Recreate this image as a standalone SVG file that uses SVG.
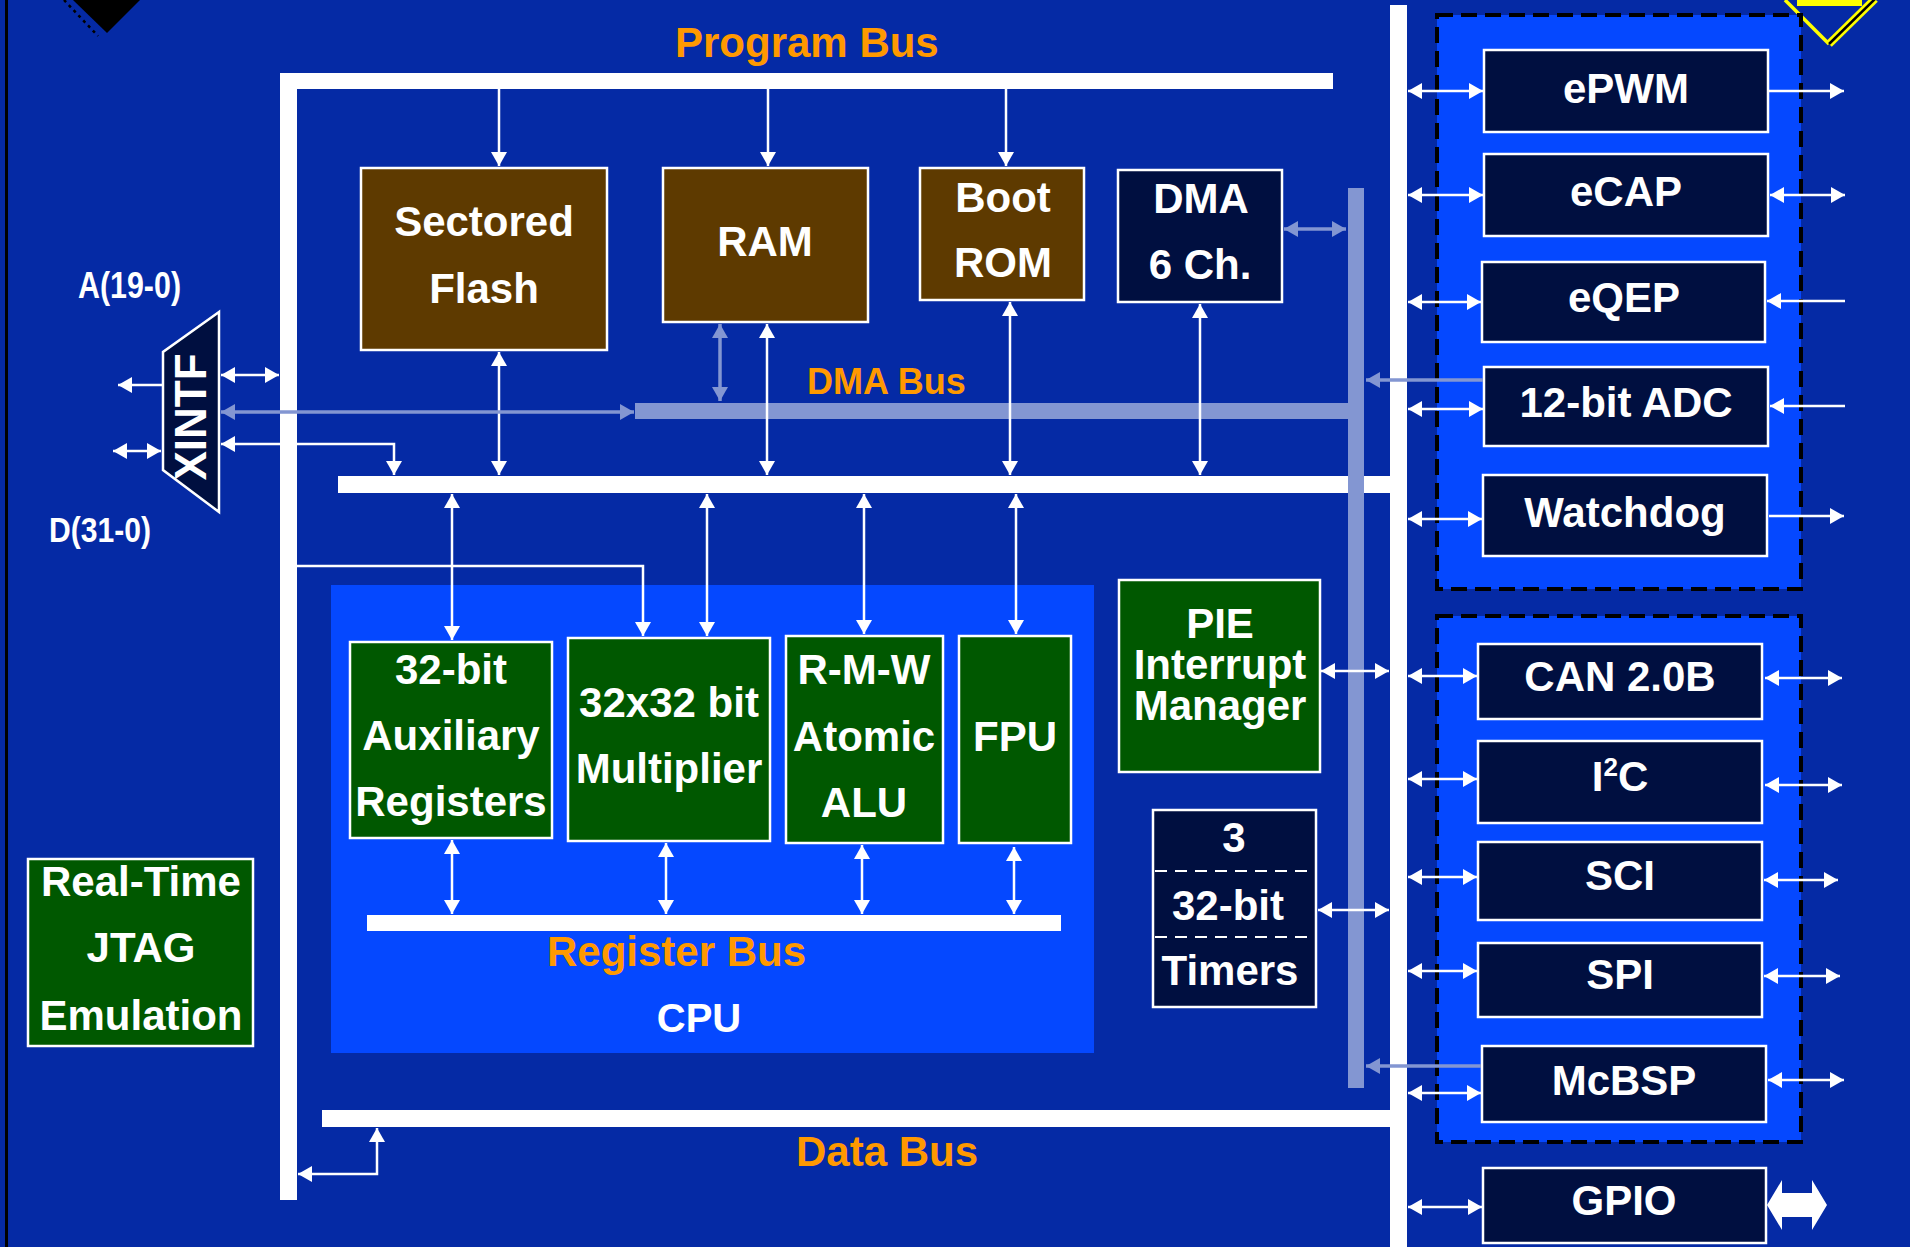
<svg xmlns="http://www.w3.org/2000/svg" width="1910" height="1247" viewBox="0 0 1910 1247">
<defs>
<style>
text{font-family:"Liberation Sans",Arial,sans-serif;font-weight:bold;fill:#fff;font-size:42px;text-anchor:middle}
.lbl{fill:#FF9900;text-anchor:start}
.wb{fill:#fff}
.lb{fill:#8396D2}
.box{stroke:#fff;stroke-width:2.5}
.brown{fill:#5E3A00}
.green{fill:#005800}
.navy{fill:#000F40}
.grp{fill:#0548FF;stroke:#000;stroke-width:4;stroke-dasharray:16 8}
.w{fill:none;stroke:#fff;stroke-width:2.5}
.l{fill:none;stroke:#8396D2;stroke-width:3.5}
.d{marker-start:url(#aw);marker-end:url(#aw)}
.e{marker-end:url(#aw)}
.dl{marker-start:url(#al);marker-end:url(#al)}
.el{marker-end:url(#al)}
</style>
<marker id="aw" markerUnits="userSpaceOnUse" markerWidth="14" markerHeight="16" refX="14" refY="8" orient="auto-start-reverse"><path d="M0,0 L14,8 L0,16 z" fill="#fff"/></marker>
<marker id="al" markerUnits="userSpaceOnUse" markerWidth="14" markerHeight="16" refX="14" refY="8" orient="auto-start-reverse"><path d="M0,0 L14,8 L0,16 z" fill="#8396D2"/></marker>
</defs>
<rect x="0" y="0" width="1910" height="1247" fill="#052AA5"/>
<rect x="5" y="0" width="3" height="1247" fill="#000"/>
<polygon points="73,0 140,0 107,33" fill="#000"/>
<line x1="64" y1="0" x2="98" y2="36" stroke="#000" stroke-width="2.5" stroke-dasharray="3 4"/>
<rect x="1797" y="0" width="65" height="6" fill="#FFFF00"/>
<line x1="1785" y1="0" x2="1829" y2="44" stroke="#FFFF00" stroke-width="3.5"/>
<line x1="1875" y1="-1" x2="1829" y2="44" stroke="#FFFF00" stroke-width="8"/>
<line x1="1875" y1="-1" x2="1829" y2="44" stroke="#000" stroke-width="2.5"/>

<g id="cpu-area"><rect x="331" y="585" width="763" height="468" fill="#0548FF"/></g>
<g id="periph-group-1"><rect class="grp" x="1437" y="15" width="364" height="574"/></g>
<g id="periph-group-2"><rect class="grp" x="1437" y="616" width="364" height="526"/></g>

<g id="buses">
<rect class="wb" x="280" y="73" width="1053" height="16"/>
<rect class="wb" x="280" y="73" width="17" height="1127"/>
<rect class="wb" x="1390" y="5" width="17" height="1242"/>
<rect class="wb" x="338" y="476" width="1052" height="17"/>
<rect class="wb" x="322" y="1110" width="1068" height="17"/>
<rect class="wb" x="367" y="915" width="694" height="16"/>
<rect class="lb" x="635" y="403" width="721" height="16"/>
<rect class="lb" x="1348" y="188" width="16" height="900"/>
</g>

<g id="bus-labels">
<text class="lbl" x="675" y="57">Program Bus</text>
<text class="lbl" x="807" y="394" style="font-size:36px">DMA Bus</text>
<text class="lbl" x="547" y="966">Register Bus</text>
<text class="lbl" x="796" y="1166">Data Bus</text>
<text x="699" y="1032" style="font-size:40px">CPU</text>
<text x="78" y="298" style="font-size:36px;text-anchor:start" textLength="103" lengthAdjust="spacingAndGlyphs">A(19-0)</text>
<text x="49" y="542" style="font-size:35px;text-anchor:start" textLength="102" lengthAdjust="spacingAndGlyphs">D(31-0)</text>
</g>

<g id="flash"><rect class="box brown" x="361" y="168" width="246" height="182"/><text x="484" y="236">Sectored</text><text x="484" y="303">Flash</text></g>
<g id="ram"><rect class="box brown" x="663" y="168" width="205" height="154"/><text x="765" y="256">RAM</text></g>
<g id="bootrom"><rect class="box brown" x="920" y="168" width="164" height="132"/><text x="1003" y="212">Boot</text><text x="1003" y="277">ROM</text></g>
<g id="dma"><rect class="box navy" x="1118" y="170" width="164" height="132"/><text x="1201" y="213">DMA</text><text x="1200" y="279">6 Ch.</text></g>
<g id="xintf"><polygon class="box navy" points="219,312 163,352 163,470 219,512"/><text transform="translate(206,417) rotate(-90)" style="font-size:44px">XINTF</text></g>

<g id="auxreg"><rect class="box green" x="350" y="642" width="202" height="196"/><text x="451" y="684">32-bit</text><text x="451" y="750">Auxiliary</text><text x="451" y="816">Registers</text></g>
<g id="mult"><rect class="box green" x="568" y="638" width="202" height="203"/><text x="669" y="717">32x32 bit</text><text x="669" y="783">Multiplier</text></g>
<g id="alu"><rect class="box green" x="786" y="636" width="157" height="207"/><text x="864" y="684">R-M-W</text><text x="864" y="751">Atomic</text><text x="864" y="817">ALU</text></g>
<g id="fpu"><rect class="box green" x="959" y="636" width="112" height="207"/><text x="1015" y="751">FPU</text></g>
<g id="pie"><rect class="box green" x="1119" y="580" width="201" height="192"/><text x="1220" y="638">PIE</text><text x="1220" y="679">Interrupt</text><text x="1220" y="720">Manager</text></g>
<g id="timers"><rect class="box navy" x="1153" y="810" width="163" height="197"/>
<line x1="1155" y1="871" x2="1314" y2="871" stroke="#fff" stroke-width="2" stroke-dasharray="12 8"/>
<line x1="1155" y1="937" x2="1314" y2="937" stroke="#fff" stroke-width="2" stroke-dasharray="12 8"/>
<text x="1234" y="852">3</text><text x="1228" y="920">32-bit</text><text x="1230" y="985">Timers</text></g>
<g id="jtag"><rect class="box green" x="28" y="859" width="225" height="187"/><text x="141" y="896">Real-Time</text><text x="141" y="962">JTAG</text><text x="141" y="1030">Emulation</text></g>

<g id="epwm"><rect class="box navy" x="1484" y="50" width="284" height="82"/><text x="1626" y="103">ePWM</text></g>
<g id="ecap"><rect class="box navy" x="1484" y="154" width="284" height="82"/><text x="1626" y="206">eCAP</text></g>
<g id="eqep"><rect class="box navy" x="1482" y="262" width="283" height="80"/><text x="1624" y="312">eQEP</text></g>
<g id="adc"><rect class="box navy" x="1484" y="367" width="284" height="79"/><text x="1626" y="417">12-bit ADC</text></g>
<g id="watchdog"><rect class="box navy" x="1483" y="475" width="284" height="81"/><text x="1625" y="527">Watchdog</text></g>
<g id="can"><rect class="box navy" x="1478" y="644" width="284" height="75"/><text x="1620" y="691">CAN 2.0B</text></g>
<g id="i2c"><rect class="box navy" x="1478" y="741" width="284" height="82"/><text x="1620" y="791">I<tspan style="font-size:26px" dy="-15">2</tspan><tspan dy="15">C</tspan></text></g>
<g id="sci"><rect class="box navy" x="1478" y="842" width="284" height="78"/><text x="1620" y="890">SCI</text></g>
<g id="spi"><rect class="box navy" x="1478" y="943" width="284" height="74"/><text x="1620" y="989">SPI</text></g>
<g id="mcbsp"><rect class="box navy" x="1482" y="1046" width="284" height="76"/><text x="1624" y="1095">McBSP</text></g>
<g id="gpio"><rect class="box navy" x="1483" y="1168" width="283" height="75"/><text x="1624" y="1215">GPIO</text></g>

<g id="connectors">
<path class="w e" d="M499,89 V166"/>
<path class="w e" d="M768,89 V166"/>
<path class="w e" d="M1006,89 V166"/>
<path class="w d" d="M499,352 V475"/>
<path class="w d" d="M767,324 V475"/>
<path class="w d" d="M1010,302 V475"/>
<path class="w d" d="M1200,304 V475"/>
<path class="w d" d="M452,494 V640"/>
<path class="w d" d="M707,494 V636"/>
<path class="w d" d="M864,494 V634"/>
<path class="w d" d="M1016,494 V634"/>
<path class="w e" d="M297,566 H643 V636"/>
<path class="w d" d="M452,840 V914"/>
<path class="w d" d="M666,843 V914"/>
<path class="w d" d="M862,845 V914"/>
<path class="w d" d="M1014,847 V914"/>
<path class="w d" d="M298,1174 H377 V1128"/>
<path class="w d" d="M221,375 H279"/>
<path class="w e" d="M163,385 H118"/>
<path class="w d" d="M113,451 H161"/>
<path class="w d" d="M221,444 H394 V475"/>
<path class="w d" d="M1321,671 H1389"/>
<path class="w d" d="M1318,910 H1389"/>
<path class="w d" d="M1408,91 H1483"/>
<path class="w d" d="M1408,195 H1483"/>
<path class="w d" d="M1408,302 H1481"/>
<path class="w d" d="M1408,409 H1483"/>
<path class="w d" d="M1408,519 H1482"/>
<path class="w d" d="M1408,676 H1477"/>
<path class="w d" d="M1408,779 H1477"/>
<path class="w d" d="M1408,877 H1477"/>
<path class="w d" d="M1408,971 H1477"/>
<path class="w d" d="M1408,1093 H1481"/>
<path class="w d" d="M1408,1207 H1482"/>
<path class="w e" d="M1769,91 H1844"/>
<path class="w d" d="M1770,195 H1845"/>
<path class="w e" d="M1845,301 H1767"/>
<path class="w e" d="M1845,406 H1770"/>
<path class="w e" d="M1769,516 H1844"/>
<path class="w d" d="M1765,678 H1842"/>
<path class="w d" d="M1765,785 H1842"/>
<path class="w d" d="M1764,880 H1838"/>
<path class="w d" d="M1764,976 H1840"/>
<path class="w d" d="M1768,1080 H1844"/>
<polygon class="wb" points="1767,1205 1782,1180 1782,1193 1812,1193 1812,1180 1827,1205 1812,1230 1812,1217 1782,1217 1782,1230"/>
<path class="l dl" d="M221,412 H634"/>
<path class="l dl" d="M720,324 V401"/>
<path class="l dl" d="M1284,229 H1346"/>
<path class="l el" d="M1483,380 H1366"/>
<path class="l el" d="M1481,1066 H1366"/>
</g>
</svg>
